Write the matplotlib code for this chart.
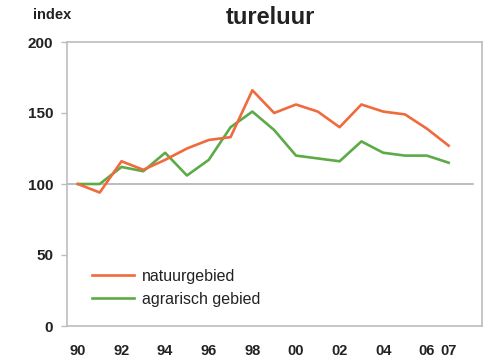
import matplotlib
matplotlib.use("Agg")
import matplotlib.pyplot as plt

# Tureluur (redshank) breeding index, 1990 = 100
years = [1990, 1991, 1992, 1993, 1994, 1995, 1996, 1997, 1998,
         1999, 2000, 2001, 2002, 2003, 2004, 2005, 2006, 2007]
natuurgebied = [100, 94, 116, 110, 117, 125, 131, 133, 166,
                150, 156, 151, 140, 156, 151, 149, 139, 127]
agrarisch = [100, 100, 112, 109, 122, 106, 117, 140, 151,
             138, 120, 118, 116, 130, 122, 120, 120, 115]

xtick_pos = [1990, 1992, 1994, 1996, 1998, 2000, 2002, 2004, 2006, 2007]
xtick_labels = ["90", "92", "94", "96", "98", "00", "02", "04", "06", "07"]
ytick_pos = [0, 50, 100, 150, 200]

plt.rcParams["font.family"] = ["Liberation Sans", "DejaVu Sans"]
plt.rcParams["font.weight"] = "bold"

orange = "#F06A3C"
green = "#5DAA48"
frame = "#BDBDBD"
text_c = "#222222"

fig = plt.figure(figsize=(4.88, 3.63), dpi=100)
ax = fig.add_axes([67 / 488, 1 - 326 / 363, 415 / 488, 284 / 363])

ax.plot([1989.5, 2008.1], [100, 100], color="#B0B0B0", lw=1.2, zorder=1)
ax.plot(years, natuurgebied, color=orange, lw=1.9, label="natuurgebied", zorder=3)
ax.plot(years, agrarisch, color=green, lw=1.9, label="agrarisch gebied", zorder=2)

ax.set_xlim(1989.5, 2008.53)
ax.set_ylim(0, 200)

ax.set_xticks(xtick_pos)
ax.set_xticklabels(xtick_labels)
ax.set_yticks(ytick_pos)
ax.tick_params(axis="x", length=0, pad=13, labelsize=10.5, labelcolor=text_c)
ax.tick_params(axis="y", length=4, width=1, color=frame, pad=6,
               labelsize=11, labelcolor=text_c)
for lbl in ax.get_xticklabels() + ax.get_yticklabels():
    lbl.set_fontweight("bold")

for s in ax.spines.values():
    s.set_color(frame)
    s.set_linewidth(1.2)

leg = ax.legend(loc="lower left", bbox_to_anchor=(0.045, 0.045), frameon=False,
                fontsize=11.5, handlelength=2.6, handletextpad=0.5,
                labelspacing=0.5, borderaxespad=0)
for t in leg.get_texts():
    t.set_color(text_c)
    t.set_fontweight("normal")

fig.text(270 / 488, 1 - 17 / 363, "tureluur", ha="center", va="center",
         fontsize=17, fontweight="bold", color=text_c)
fig.text(33 / 488, 1 - 15 / 363, "index", ha="left", va="center",
         fontsize=10.5, fontweight="bold", color=text_c)

fig.savefig("out.png", dpi=100)
